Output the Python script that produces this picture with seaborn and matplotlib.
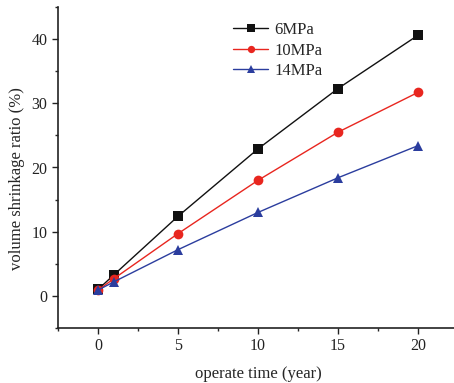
import matplotlib
matplotlib.use("Agg")
import matplotlib.pyplot as plt
import seaborn as sns
import pandas as pd
from matplotlib.ticker import MultipleLocator

years = [0, 1, 5, 10, 15, 20]
p6 = [1.0, 3.3, 12.4, 22.9, 32.3, 40.6]
p10 = [0.9, 2.7, 9.7, 18.0, 25.5, 31.7]
p14 = [0.9, 2.2, 7.2, 13.0, 18.4, 23.4]
labels = ["6MPa", "10MPa", "14MPa"]

rows = []
for lab, vals in zip(labels, [p6, p10, p14]):
    for x, y in zip(years, vals):
        rows.append({"time": x, "ratio": y, "series": lab})
df = pd.DataFrame(rows)

sns.set_style("ticks")
plt.rcParams['font.family'] = ['Liberation Serif', 'DejaVu Serif']

fig = plt.figure(figsize=(4.54, 3.83), dpi=100)
ax = fig.add_axes([58/454, 55/383, 400/454, 321/383])

palette = {"6MPa": "#111111", "10MPa": "#e8261f", "14MPa": "#2b3d9e"}
markers = {"6MPa": "s", "10MPa": "o", "14MPa": "^"}
sns.lineplot(data=df, x="time", y="ratio", hue="series", style="series",
             palette=palette, markers=markers, dashes=False, markersize=7,
             markeredgewidth=0, linewidth=1.0, ax=ax)

ax.set_xlim(-2.5, 22.5)
ax.set_ylim(-5, 45)
ax.xaxis.set_major_locator(MultipleLocator(5))
ax.xaxis.set_minor_locator(MultipleLocator(2.5))
ax.yaxis.set_major_locator(MultipleLocator(10))
ax.yaxis.set_minor_locator(MultipleLocator(5))
ax.tick_params(which='major', direction='out', length=4, width=1, labelsize=11.5, colors='#222222')
ax.tick_params(which='minor', direction='out', length=2.5, width=1)
for s in ["top", "right"]:
    ax.spines[s].set_visible(False)
for s in ["left", "bottom"]:
    ax.spines[s].set_linewidth(1.2)
    ax.spines[s].set_color('#222222')

ax.set_xlabel("operate time (year)", fontsize=12, labelpad=8)
ax.set_ylabel("volume shrinkage ratio (%)", fontsize=12)
ax.yaxis.set_label_coords(-0.083, 0.464)

leg = ax.legend(title=None, frameon=False, fontsize=12, loc='upper left',
                bbox_to_anchor=(0.40, 1.0), handlelength=2.1, labelspacing=0.28,
                markerscale=0.75, handletextpad=0.4)

fig.savefig("out.png", dpi=100)
